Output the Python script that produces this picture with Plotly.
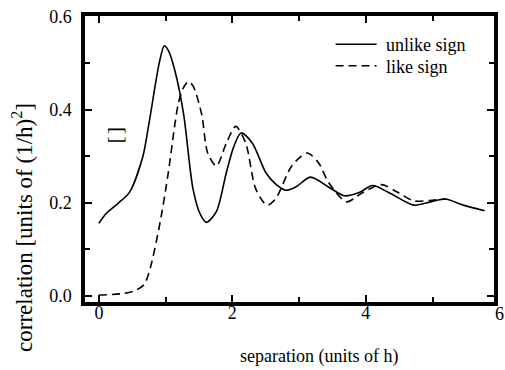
import plotly.graph_objects as go

# unlike sign (solid)
unlike_x = [0.0, 0.11, 0.29, 0.46, 0.66, 0.75, 0.91, 0.98, 1.04, 1.14, 1.27, 1.41, 1.52, 1.61,
            1.76, 1.91, 2.02, 2.13, 2.30, 2.50, 2.65, 2.80, 2.95, 3.17, 3.44, 3.68, 3.90, 4.10,
            4.37, 4.72, 4.97, 5.19, 5.46, 5.78]
unlike_y = [0.156, 0.177, 0.199, 0.223, 0.300, 0.370, 0.504, 0.537, 0.527, 0.483, 0.390, 0.230,
            0.175, 0.158, 0.181, 0.265, 0.320, 0.350, 0.328, 0.265, 0.240, 0.227, 0.234, 0.255,
            0.234, 0.215, 0.222, 0.237, 0.220, 0.195, 0.202, 0.208, 0.195, 0.183]

# like sign (dashed)
like_x = [0.0, 0.35, 0.55, 0.68, 0.77, 0.92, 1.04, 1.14, 1.19, 1.26, 1.34, 1.41, 1.54, 1.63,
          1.76, 1.91, 2.05, 2.20, 2.35, 2.52, 2.65, 2.89, 3.12, 3.29, 3.44, 3.71, 3.93, 4.23,
          4.47, 4.72, 5.02, 5.20]
like_y = [0.002, 0.005, 0.012, 0.025, 0.060, 0.160, 0.265, 0.370, 0.413, 0.445, 0.460, 0.451,
          0.390, 0.307, 0.279, 0.328, 0.364, 0.328, 0.230, 0.195, 0.209, 0.279, 0.307, 0.286,
          0.244, 0.202, 0.220, 0.239, 0.223, 0.204, 0.206, 0.208]

x_ticks = [0, 2, 4]
y_ticks = [0.0, 0.2, 0.4, 0.6]
y_tick_text = ["0.0", "0.2", "0.4", "0.6"]

FONT = "Liberation Serif"
W, H = 505, 370
L, R, T, B = 85, 7, 11, 68
PW, PH = W - L - R, H - T - B


def px2paper_x(px):
    return (px - L) / PW


def py2paper_y(py):
    return (H - B - py) / PH


fig = go.Figure()
fig.add_trace(go.Scatter(x=unlike_x, y=unlike_y, mode="lines", name="\u00a0unlike sign",
                         legend="legend",
                         line=dict(color="black", width=1.6, shape="spline", smoothing=0.8)))
fig.add_trace(go.Scatter(x=like_x, y=like_y, mode="lines", name="\u00a0like sign",
                         legend="legend2",
                         line=dict(color="black", width=1.6, dash="8px,5px", shape="spline",
                                   smoothing=0.8)))

axis_common = dict(showline=True, linecolor="black", linewidth=3.5, mirror="allticks",
                   ticks="inside", ticklen=7, tickwidth=2, tickcolor="black",
                   showgrid=False, zeroline=False,
                   tickfont=dict(family=FONT, size=18, color="black"))

fig.update_xaxes(range=[-0.208, 5.92], tickvals=x_ticks, ticktext=[str(v) for v in x_ticks],
                 ticklabelstandoff=-8,
                 minor=dict(dtick=1, tick0=0, ticks="inside", ticklen=5, tickwidth=2,
                            tickcolor="black"),
                 **axis_common)
fig.update_yaxes(range=[-0.013, 0.601], tickvals=y_ticks, ticktext=y_tick_text,
                 ticklabelstandoff=6,
                 minor=dict(dtick=0.1, tick0=0, ticks="inside", ticklen=5, tickwidth=2,
                            tickcolor="black"),
                 **axis_common)

# tick label "6" sits just past the right frame
fig.add_annotation(x=px2paper_x(503.5), y=py2paper_y(314), xref="paper", yref="paper",
                   text="6", showarrow=False, xanchor="center", yanchor="middle",
                   font=dict(family=FONT, size=18, color="black"))
fig.add_annotation(x=0.23, y=0.345, xref="x", yref="y", text="[\u200a]", textangle=-90,
                   showarrow=False, xanchor="center", yanchor="middle",
                   font=dict(family=FONT, size=22, color="black"))
fig.add_annotation(x=px2paper_x(22), y=py2paper_y(226), xref="paper", yref="paper",
                   text="correlation [units of (1/h)<sup>2</sup>]", textangle=-90,
                   showarrow=False, xanchor="center", yanchor="middle",
                   font=dict(family=FONT, size=23, color="black"))
fig.add_annotation(x=px2paper_x(321), y=py2paper_y(357), xref="paper", yref="paper",
                   text="separation (units of h)", showarrow=False,
                   xanchor="center", yanchor="middle",
                   font=dict(family=FONT, size=18, color="black"))

leg = dict(xanchor="left", yanchor="middle", bgcolor="rgba(0,0,0,0)",
           font=dict(family=FONT, size=18, color="black"), itemwidth=41)
fig.update_layout(
    width=W, height=H,
    margin=dict(l=L, r=R, t=T, b=B),
    plot_bgcolor="white", paper_bgcolor="white",
    font=dict(family=FONT, size=18, color="black"),
    showlegend=True,
    legend=dict(x=px2paper_x(333), y=py2paper_y(40), **leg),
    legend2=dict(x=px2paper_x(333), y=py2paper_y(62), **leg),
)

fig.write_html("out.html")
